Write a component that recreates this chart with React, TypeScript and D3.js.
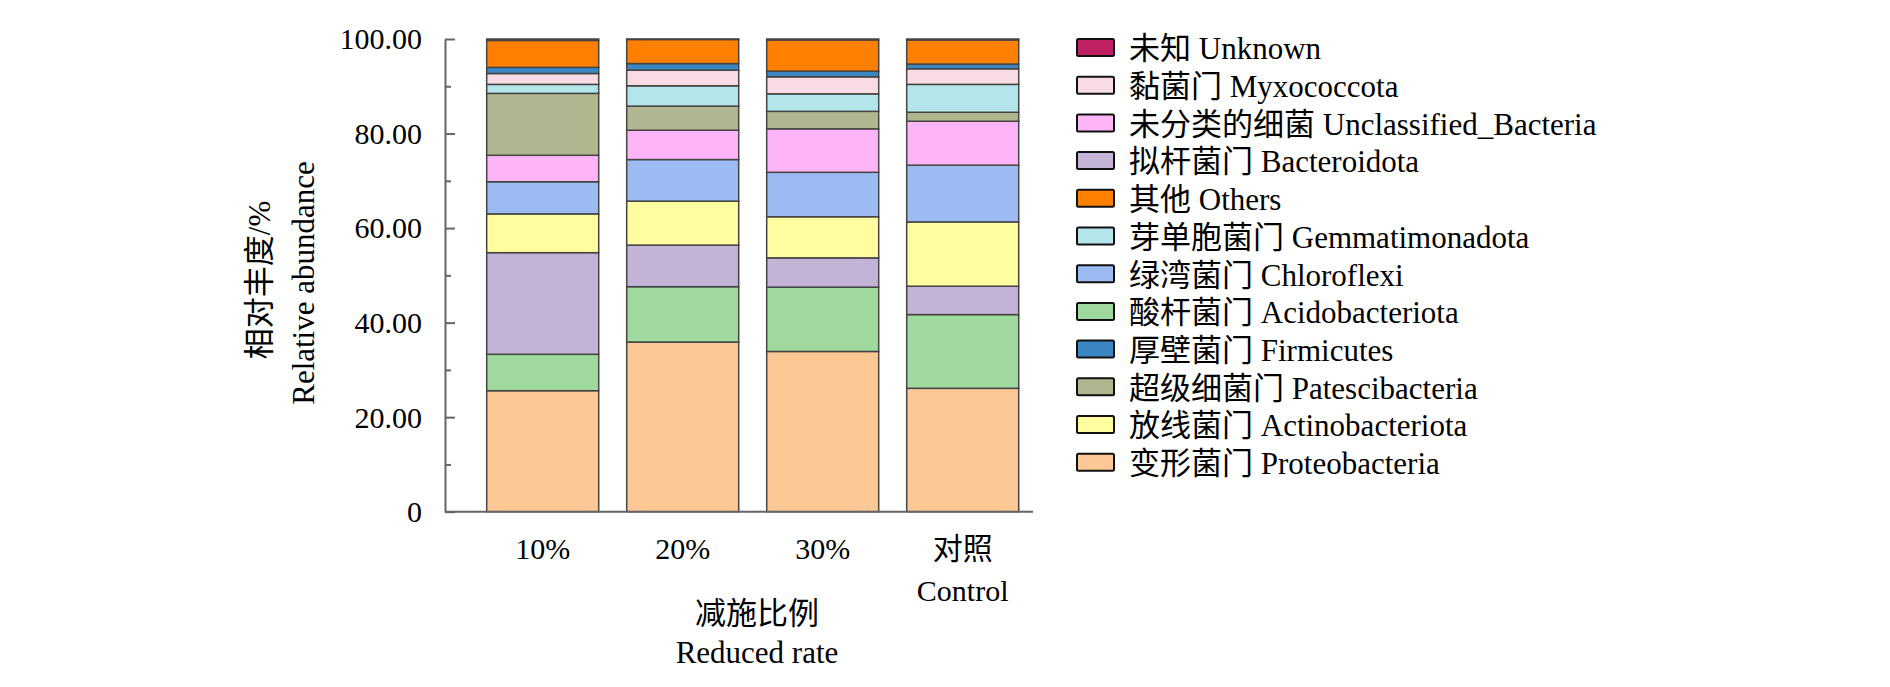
import { useEffect, useRef } from "react";
import * as d3 from "d3";

const W = 1890,
  H = 687;
const margin = { top: 39, left: 445 };
const plotBottom = 511.7;
const axisRight = 1033;

const groups = ["10%", "20%", "30%", "对照"];
const groupSub = ["", "", "", "Control"];

// stacking order, bottom to top
const phyla = [
  "Proteobacteria",
  "Acidobacteriota",
  "Bacteroidota",
  "Actinobacteriota",
  "Chloroflexi",
  "Unclassified_Bacteria",
  "Patescibacteria",
  "Gemmatimonadota",
  "Myxococcota",
  "Firmicutes",
  "Others",
  "Unknown",
];

const zhNames: Record<string, string> = {
  Unknown: "未知",
  Myxococcota: "黏菌门",
  Unclassified_Bacteria: "未分类的细菌",
  Bacteroidota: "拟杆菌门",
  Others: "其他",
  Gemmatimonadota: "芽单胞菌门",
  Chloroflexi: "绿湾菌门",
  Acidobacteriota: "酸杆菌门",
  Firmicutes: "厚壁菌门",
  Patescibacteria: "超级细菌门",
  Actinobacteriota: "放线菌门",
  Proteobacteria: "变形菌门",
};

const colors: Record<string, string> = {
  Unknown: "#BF2162",
  Myxococcota: "#F9DBE4",
  Unclassified_Bacteria: "#FDB5F7",
  Bacteroidota: "#C3B3D7",
  Others: "#FF8000",
  Gemmatimonadota: "#B4E5EA",
  Chloroflexi: "#9CBBF2",
  Acidobacteriota: "#A0D99D",
  Firmicutes: "#3B87C4",
  Patescibacteria: "#B2B690",
  Actinobacteriota: "#FFFD9F",
  Proteobacteria: "#FCC896",
};

// legend order, top to bottom
const legendOrder = [
  "Unknown",
  "Myxococcota",
  "Unclassified_Bacteria",
  "Bacteroidota",
  "Others",
  "Gemmatimonadota",
  "Chloroflexi",
  "Acidobacteriota",
  "Firmicutes",
  "Patescibacteria",
  "Actinobacteriota",
  "Proteobacteria",
];

// values per group, in stacking order
const g10 = [25.6, 7.7, 21.5, 8.2, 6.8, 5.6, 13.1, 1.9, 2.3, 1.3, 5.7, 0.3];
const g20 = [35.9, 11.7, 8.8, 9.3, 8.8, 6.2, 5.1, 4.3, 3.3, 1.4, 5.1, 0.1];
const g30 = [33.9, 13.6, 6.2, 8.7, 9.4, 9.2, 3.7, 3.7, 3.6, 1.2, 6.6, 0.2];
const gCk = [26.1, 15.6, 6.0, 13.6, 12.0, 9.3, 1.9, 5.9, 3.3, 1.0, 5.1, 0.2];

const majorTicks = [0, 20, 40, 60, 80, 100];
const minorTicks = [10, 30, 50, 70, 90];

const font = "'Liberation Serif', 'Times New Roman', 'Noto Sans CJK SC', serif";

export default function App() {
  const ref = useRef<SVGSVGElement | null>(null);

  useEffect(() => {
    const svg = d3.select(ref.current);
    svg.selectAll("*").remove();

    const table = groups.map((g, i) => {
      const vals = [g10, g20, g30, gCk][i];
      const row: any = { group: g };
      phyla.forEach((p, j) => (row[p] = vals[j]));
      return row;
    });

    const x = d3
      .scaleBand()
      .domain(groups)
      .range([472.7, 1032.7])
      .paddingInner(0.2)
      .paddingOuter(0.1);
    const y = d3.scaleLinear().domain([0, 100]).range([plotBottom, margin.top]);

    const series = d3.stack().keys(phyla)(table);

    // bars
    svg
      .append("g")
      .selectAll("g")
      .data(series)
      .join("g")
      .attr("fill", (d) => colors[d.key])
      .selectAll("rect")
      .data((d) => d)
      .join("rect")
      .attr("x", (d: any) => x(d.data.group) as number)
      .attr("width", x.bandwidth())
      .attr("y", (d) => y(d[1]))
      .attr("height", (d) => y(d[0]) - y(d[1]))
      .attr("stroke", "#444")
      .attr("stroke-width", 1.5);

    // y axis
    const yAxis = svg
      .append("g")
      .attr("transform", `translate(${margin.left},0)`)
      .call(
        d3
          .axisLeft(y)
          .tickValues(majorTicks)
          .tickSizeInner(-10)
          .tickSizeOuter(0)
          .tickPadding(23)
          .tickFormat((d: any) => (d === 0 ? "0" : d3.format(".2f")(d)))
      );
    yAxis.attr("font-family", null).attr("font-size", null);
    yAxis.select(".domain").attr("stroke", "#666").attr("stroke-width", 2);
    yAxis.selectAll(".tick line").attr("stroke", "#666").attr("stroke-width", 2);
    yAxis
      .selectAll(".tick text")
      .style("font-family", font)
      .style("font-size", "30px")
      .attr("fill", "#000")
      .attr("dy", "0.33em");

    const yMinor = svg
      .append("g")
      .attr("transform", `translate(${margin.left},0)`)
      .call(d3.axisLeft(y).tickValues(minorTicks).tickSizeInner(-6).tickSizeOuter(0).tickFormat(() => ""));
    yMinor.select(".domain").remove();
    yMinor.selectAll(".tick line").attr("stroke", "#666").attr("stroke-width", 2);

    // x axis line
    svg
      .append("line")
      .attr("x1", margin.left)
      .attr("x2", axisRight)
      .attr("y1", y(0))
      .attr("y2", y(0))
      .attr("stroke", "#666")
      .attr("stroke-width", 2);

    // x labels
    const xl = svg
      .append("g")
      .style("font-family", font)
      .style("font-size", "30px")
      .attr("text-anchor", "middle");
    groups.forEach((g, i) => {
      const cx = (x(g) as number) + x.bandwidth() / 2;
      xl.append("text").attr("x", cx).attr("y", 559).text(g);
      if (groupSub[i]) xl.append("text").attr("x", cx).attr("y", 600.5).text(groupSub[i]);
    });

    // x title
    const xt = svg
      .append("g")
      .style("font-family", font)
      .style("font-size", "31px")
      .attr("text-anchor", "middle");
    xt.append("text").attr("x", 757).attr("y", 624).text("减施比例");
    xt.append("text").attr("x", 757).attr("y", 663).text("Reduced rate");

    // y title
    const yt = svg
      .append("g")
      .style("font-family", font)
      .style("font-size", "31px")
      .attr("text-anchor", "middle");
    yt.append("text")
      .attr("transform", "translate(259,280) rotate(-90)")
      .attr("dy", "0.35em")
      .text("相对丰度/%");
    yt.append("text")
      .attr("transform", "translate(303,283) rotate(-90)")
      .attr("dy", "0.35em")
      .text("Relative abundance");

    // legend
    const legend = svg
      .append("g")
      .style("font-family", font)
      .style("font-size", "31px")
      .selectAll("g")
      .data(legendOrder)
      .join("g")
      .attr("transform", (_, i) => `translate(1077,${47.5 + i * 37.7})`);
    legend
      .append("rect")
      .attr("x", 0)
      .attr("y", -8.5)
      .attr("width", 37)
      .attr("height", 17)
      .attr("rx", 1.5)
      .attr("fill", (d) => colors[d])
      .attr("stroke", "#111")
      .attr("stroke-width", 2);
    legend
      .append("text")
      .attr("x", 52)
      .attr("y", 1)
      .attr("dy", "0.35em")
      .text((d) => `${zhNames[d]} ${d}`);
  }, []);

  return (
    <svg
      ref={ref}
      width={W}
      height={H}
      style={{ position: "absolute", left: 0, top: 0, background: "#fff" }}
    />
  );
}
